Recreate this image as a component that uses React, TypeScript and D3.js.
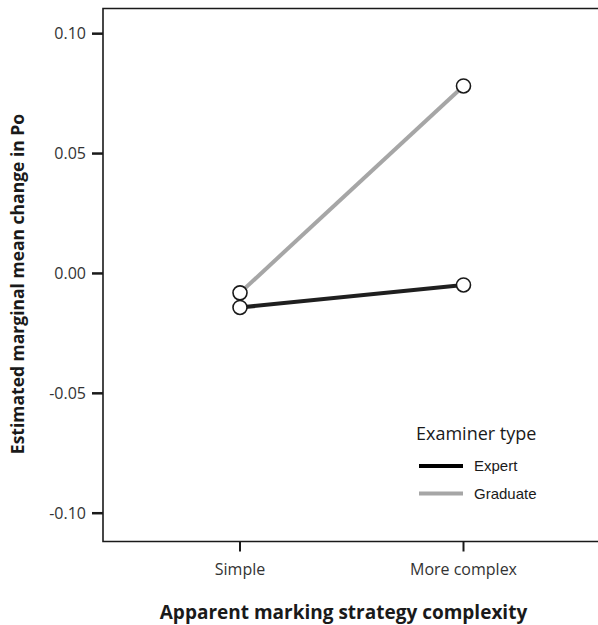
import React from "react";
import * as d3 from "d3";

const categories = ["Simple", "More complex"];
const expertValues = [-0.0142, -0.0048];
const graduateValues = [-0.0081, 0.0782];
const yTicks = [0.1, 0.05, 0.0, -0.05, -0.1];
const seriesNames = ["Expert", "Graduate"];
const seriesColors = ["#1f1f1f", "#a6a6a6"];

const W = 598;
const H = 625;
const left = 103;
const top = 8.5;
const bottom = 541.5;

export default function App() {
  const x = d3.scalePoint<string>().domain(categories).range([240, 463.5]);
  const y = d3.scaleLinear().domain([-0.1118, 0.1105]).range([bottom, top]);
  const line = d3
    .line<[string, number]>()
    .x((d) => x(d[0]) as number)
    .y((d) => y(d[1]));
  const series = [expertValues, graduateValues];
  const tickFont = "'Open Sans', sans-serif";
  const fmt = (t: number) => d3.format(".2f")(t).replace("\u2212", "-");
  return (
    <svg
      width={W}
      height={H}
      style={{ position: "absolute", left: 0, top: 0, background: "#fff" }}
    >
      {/* frame */}
      <path
        d={`M${W},${top}H${left}V${bottom}H${W}`}
        fill="none"
        stroke="#1a1a1a"
        strokeWidth={1.6}
      />
      {/* y ticks */}
      {yTicks.map((t) => (
        <g key={t}>
          <line x1={left - 11} x2={left} y1={y(t)} y2={y(t)} stroke="#1a1a1a" strokeWidth={2.5} />
          <text
            x={86}
            y={y(t)}
            dy="0.36em"
            textAnchor="end"
            fontFamily={tickFont}
            fontSize={16}
            fill="#333"
          >
            {fmt(t)}
          </text>
        </g>
      ))}
      {/* x ticks */}
      {categories.map((c) => (
        <g key={c}>
          <line x1={x(c)} x2={x(c)} y1={bottom} y2={bottom + 10} stroke="#1a1a1a" strokeWidth={2} />
          <text
            x={x(c)}
            y={575}
            textAnchor="middle"
            fontFamily={tickFont}
            fontSize={16}
            fill="#333"
          >
            {c}
          </text>
        </g>
      ))}
      {/* axis titles */}
      <text
        x={343.5}
        y={618.5}
        textAnchor="middle"
        fontFamily={tickFont}
        fontWeight="bold"
        fontSize={19}
        fill="#1a1a1a"
      >
        Apparent marking strategy complexity
      </text>
      <text
        transform={`translate(24,284) rotate(-90)`}
        textAnchor="middle"
        fontFamily={tickFont}
        fontWeight="bold"
        fontSize={17.5}
        fill="#1a1a1a"
      >
        Estimated marginal mean change in Po
      </text>
      {/* lines */}
      {series.map((vals, i) => (
        <path
          key={i}
          d={line(categories.map((c, j) => [c, vals[j]] as [string, number])) || ""}
          fill="none"
          stroke={seriesColors[i]}
          strokeWidth={4}
        />
      ))}
      {/* markers */}
      {[1, 0].map((i) =>
        categories.map((c, j) => (
          <circle
            key={`${i}-${j}`}
            cx={x(c)}
            cy={y(series[i][j])}
            r={7}
            fill="#fff"
            stroke="#1a1a1a"
            strokeWidth={1.6}
          />
        ))
      )}
      {/* legend */}
      <text x={416} y={440} fontFamily={tickFont} fontSize={18} fill="#1a1a1a">
        Examiner type
      </text>
      {seriesNames.map((n, i) => (
        <g key={n}>
          <line
            x1={419}
            x2={463}
            y1={466 + i * 27.5}
            y2={466 + i * 27.5}
            stroke={i === 0 ? "#000" : seriesColors[i]}
            strokeWidth={4}
          />
          <text
            x={474}
            y={466 + i * 27.5}
            dy="0.36em"
            fontFamily="'Liberation Sans', Arial, sans-serif"
            fontSize={15}
            fill="#1a1a1a"
          >
            {n}
          </text>
        </g>
      ))}
    </svg>
  );
}
